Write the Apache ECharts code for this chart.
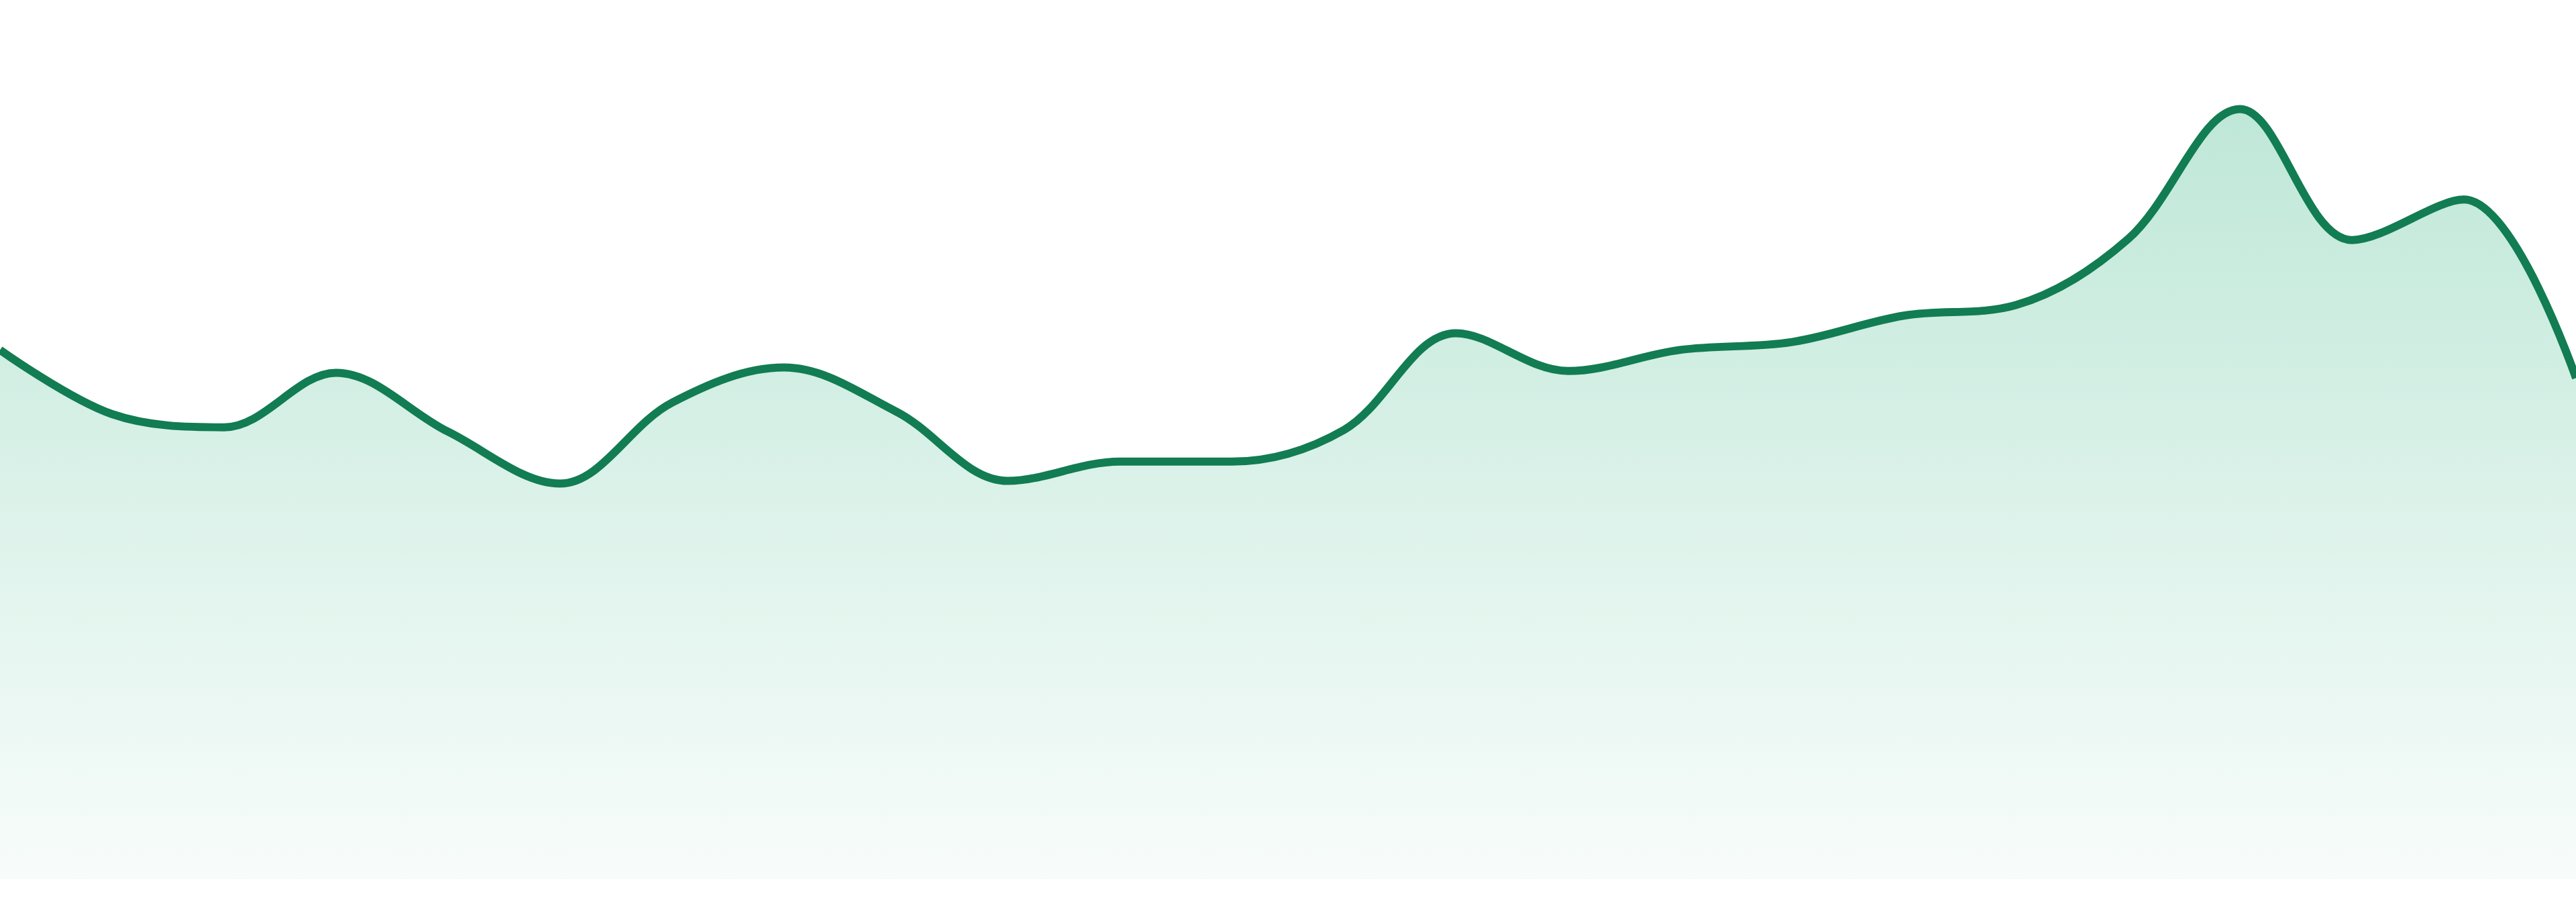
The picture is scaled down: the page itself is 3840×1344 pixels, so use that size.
<!DOCTYPE html>
<html>
<head>
<meta charset="utf-8">
<title>Area line</title>
<script src="https://cdn.jsdelivr.net/npm/echarts@6/dist/echarts.min.js"></script>
<style>
  html, body { margin: 0; padding: 0; background: #fff; }
  #chart { width: 3840px; height: 1344px; }
</style>
</head>
<body>
<div id="chart"></div>
<script>
// hourly points, left to right
const hours = [
  '00:00', '01:00', '02:00', '03:00', '04:00', '05:00', '06:00', '07:00',
  '08:00', '09:00', '10:00', '11:00', '12:00', '13:00', '14:00', '15:00',
  '16:00', '17:00', '18:00', '19:00', '20:00', '21:00', '22:00', '23:00',
];
const values = [
  60.2, 52.9, 51.4, 57.6, 50.9, 45.0, 54.2, 58.2,
  53.2, 45.3, 47.5, 47.5, 51.1, 62.1, 57.8, 60.2,
  61.1, 64.1, 65.3, 72.8, 87.6, 72.7, 77.3, 57.0,
];

const lineColor = '#127c53';

const chart = echarts.init(document.getElementById('chart'));

chart.setOption({
  backgroundColor: '#fff',
  animation: false,
  grid: { left: 0, right: 0, top: 0, bottom: 34 },
  xAxis: {
    type: 'category',
    data: hours,
    boundaryGap: false,
    show: false,
  },
  yAxis: {
    type: 'value',
    min: 0,
    max: 100,
    show: false,
  },
  series: [
    {
      type: 'line',
      data: values,
      smooth: 0.35,
      symbol: 'none',
      lineStyle: { color: lineColor, width: 12 },
      areaStyle: {
        opacity: 1,
        color: new echarts.graphic.LinearGradient(0, 0, 0, 1, [
          { offset: 0, color: 'rgba(24, 170, 115, 0.28)' },
          { offset: 1, color: 'rgba(24, 170, 115, 0.03)' },
        ]),
      },
    },
  ],
});
</script>
</body>
</html>
